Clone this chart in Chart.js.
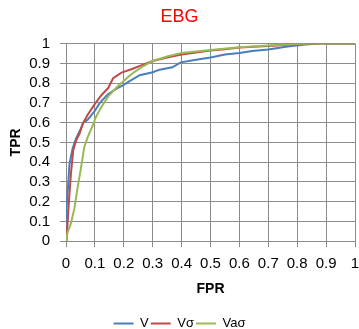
<!DOCTYPE html>
<html>
<head>
<meta charset="utf-8">
<script src="https://cdn.jsdelivr.net/npm/chart.js@4"></script>
<style>
  html, body { margin: 0; padding: 0; background: #fff; }
  #wrap { width: 359px; height: 329px; }
</style>
</head>
<body>
<div id="wrap"><canvas id="roc"></canvas></div>
<script>
// Data
let seriesNames = ["V", "Vσ", "Vaσ"];
let seriesColors = ["#4A7EBB", "#BE4B48", "#98B954"];
let tickLabels = ["0", "0.1", "0.2", "0.3", "0.4", "0.5", "0.6", "0.7", "0.8", "0.9", "1"];

let vFpr = [0, 0.002, 0.008, 0.012, 0.023, 0.035, 0.05, 0.06, 0.075, 0.1, 0.117, 0.146, 0.175, 0.198, 0.22, 0.255, 0.3, 0.324, 0.368, 0.397, 0.45, 0.5, 0.55, 0.6, 0.645, 0.7, 0.75, 0.78, 0.83, 0.875, 1];
let vTpr = [0, 0.17, 0.30, 0.39, 0.47, 0.52, 0.565, 0.6, 0.615, 0.66, 0.7, 0.745, 0.772, 0.79, 0.81, 0.84, 0.855, 0.868, 0.88, 0.905, 0.918, 0.93, 0.945, 0.953, 0.962, 0.97, 0.982, 0.988, 0.996, 1, 1];

let vsFpr = [0, 0.004, 0.01, 0.017, 0.025, 0.035, 0.047, 0.058, 0.075, 0.1, 0.123, 0.146, 0.163, 0.192, 0.226, 0.26, 0.3, 0.35, 0.4, 0.45, 0.5, 0.55, 0.6, 0.7, 0.8, 0.85, 1];
let vsTpr = [0, 0.06, 0.2, 0.34, 0.46, 0.51, 0.545, 0.595, 0.64, 0.695, 0.74, 0.775, 0.825, 0.853, 0.87, 0.89, 0.912, 0.93, 0.945, 0.955, 0.965, 0.972, 0.98, 0.988, 0.997, 1, 1];

let vasFpr = [0, 0.006, 0.017, 0.029, 0.04, 0.052, 0.063, 0.075, 0.093, 0.104, 0.123, 0.146, 0.18, 0.226, 0.26, 0.3, 0.35, 0.4, 0.5, 0.6, 0.7, 0.8, 0.85, 1];
let vasTpr = [0, 0.047, 0.09, 0.166, 0.27, 0.372, 0.475, 0.527, 0.587, 0.63, 0.68, 0.733, 0.785, 0.845, 0.88, 0.912, 0.935, 0.953, 0.968, 0.982, 0.99, 0.998, 1, 1];

function toPoints(xs, ys) {
  return xs.map((x, i) => ({ x: x, y: ys[i] }));
}

let curves = [toPoints(vFpr, vTpr), toPoints(vsFpr, vsTpr), toPoints(vasFpr, vasTpr)];

let font = "'Liberation Sans', Arial, sans-serif";
let gridColor = "#8c8c8c";

let rocChart = new Chart(document.getElementById("roc"), {
  type: "line",
  data: {
    datasets: curves.map((pts, i) => ({
      label: seriesNames[i],
      data: pts,
      borderColor: seriesColors[i],
      backgroundColor: seriesColors[i],
      borderWidth: 2,
      pointRadius: 0,
      tension: 0,
      fill: false,
      // last series on top, like the original
      order: curves.length - i
    }))
  },
  options: {
    responsive: true,
    maintainAspectRatio: false,
    animation: false,
    // negative bottom padding pulls the legend down near the edge
    layout: { padding: { left: 0, right: 0, top: 0, bottom: -11 } },
    plugins: {
      title: {
        display: true,
        text: "EBG",
        color: "#FF0000",
        font: { family: font, size: 18, weight: "normal" },
        padding: { top: 6, bottom: 16 }
      },
      legend: {
        position: "bottom",
        labels: {
          color: "#000",
          font: { family: font, size: 13 },
          usePointStyle: true,
          pointStyle: "line",
          pointStyleWidth: 20,
          padding: 2,
          sort: (a, b) => a.datasetIndex - b.datasetIndex
        }
      },
      tooltip: { enabled: false }
    },
    scales: {
      x: {
        type: "linear",
        min: 0,
        max: 1,
        ticks: {
          stepSize: 0.1,
          autoSkip: false,
          maxRotation: 0,
          padding: 8,
          color: "#000",
          font: { family: font, size: 15 },
          callback: (v, i) => tickLabels[i]
        },
        grid: { color: gridColor, tickLength: 6 },
        border: { color: gridColor },
        title: {
          display: true,
          text: "FPR",
          color: "#000",
          font: { family: font, size: 14, weight: "bold" },
          padding: { top: 0, bottom: 17 }
        },
        // let the last "1" label hang close to the edge like the original
        afterFit: function(scale) { scale.paddingRight = 4; }
      },
      y: {
        type: "linear",
        min: 0,
        max: 1,
        ticks: {
          stepSize: 0.1,
          autoSkip: false,
          padding: 10,
          color: "#000",
          font: { family: font, size: 15 },
          callback: (v, i) => tickLabels[i]
        },
        grid: { color: gridColor, tickLength: 6 },
        border: { color: gridColor },
        title: {
          display: true,
          text: "TPR",
          color: "#000",
          font: { family: font, size: 14, weight: "bold" },
          padding: 8
        },
        afterFit: function(scale) { scale.width = 66; }
      }
    }
  }
});
</script>
</body>
</html>
